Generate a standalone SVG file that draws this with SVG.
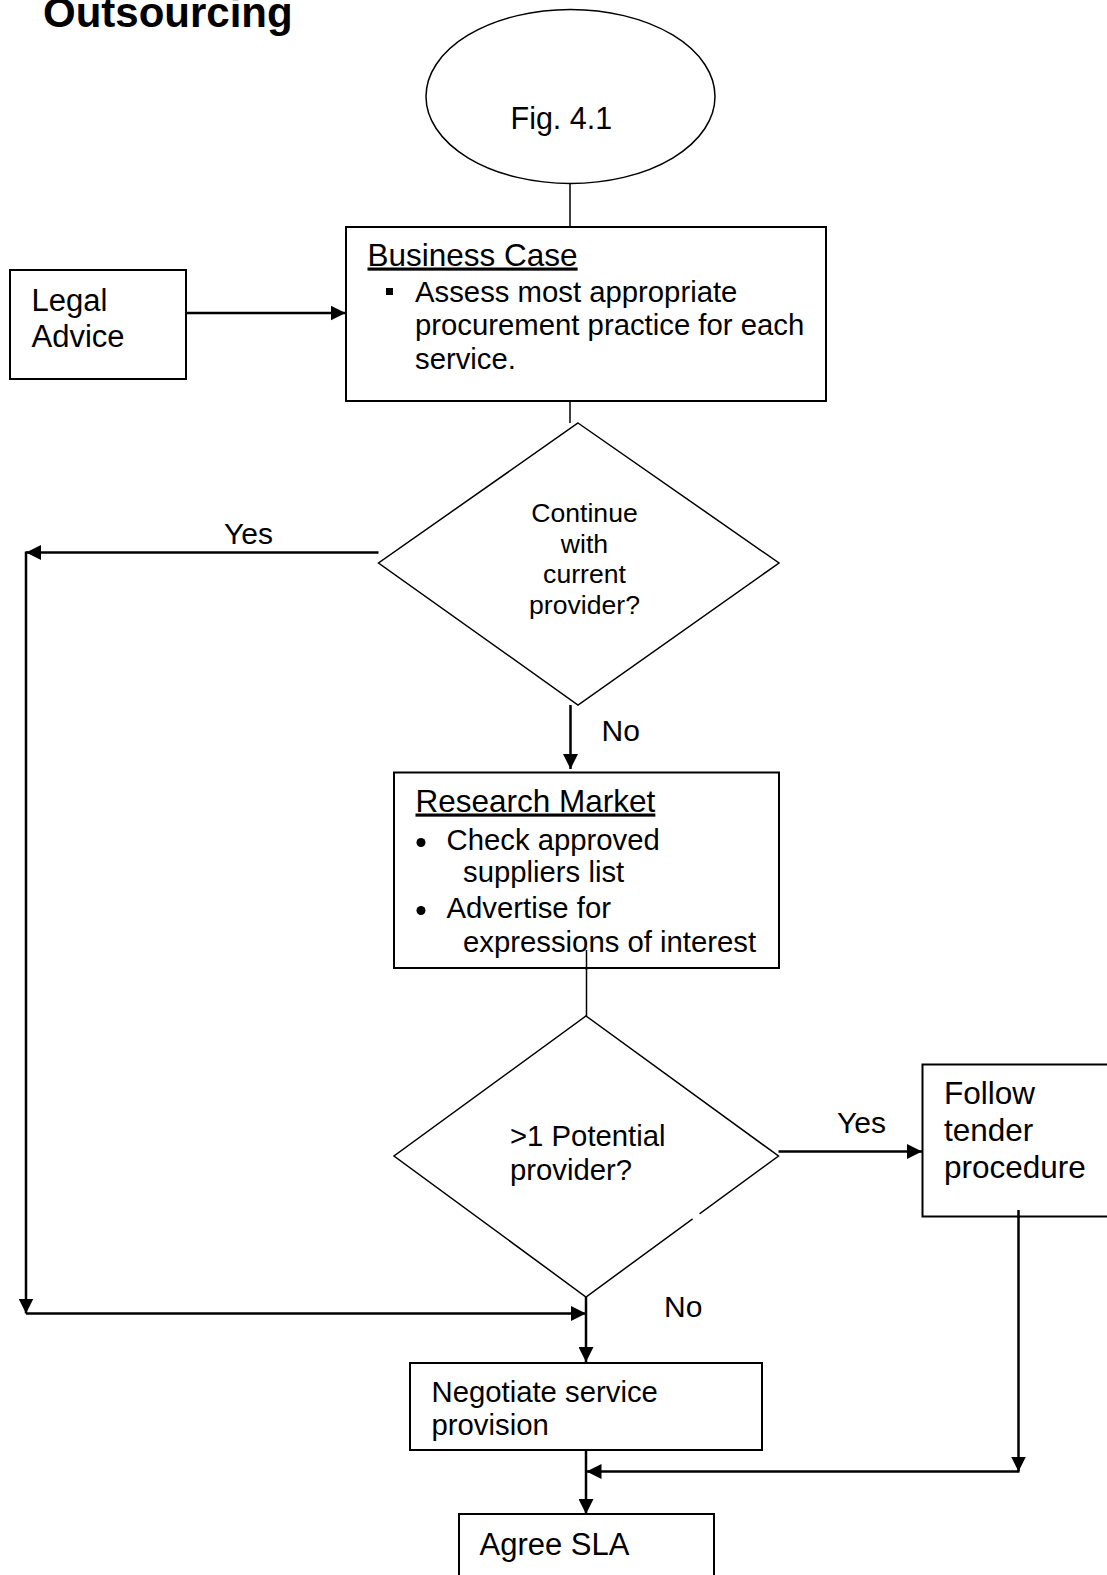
<svg xmlns="http://www.w3.org/2000/svg" width="1107" height="1575" viewBox="0 0 1107 1575">
<style>
text{font-family:"Liberation Sans",Arial,sans-serif;fill:#000}
.box{fill:#fff;stroke:#000;stroke-width:2}
.thin{fill:#fff;stroke:#000;stroke-width:1.5}
.ln{fill:none;stroke:#000;stroke-width:1.5}
.arr{fill:none;stroke:#000;stroke-width:2.5;marker-end:url(#ah)}
.seg{fill:none;stroke:#000;stroke-width:2.5}
.h{font-size:31.5px;text-decoration:underline}
.b{font-size:29.3px}
</style>
<defs>
<marker id="ah" viewBox="0 0 15 15" markerWidth="15" markerHeight="15" refX="15" refY="7.5" orient="auto" markerUnits="userSpaceOnUse">
<path d="M0,0 L15,7.5 L0,15 Z" fill="#000"/>
</marker>
</defs>
<rect width="1107" height="1575" fill="#fff"/>
<text x="43" y="27" style="font-size:42px;font-weight:bold">Outsourcing</text>

<g id="connectors">
<line class="ln" x1="570" y1="183" x2="570" y2="227"/>
<line class="ln" x1="570" y1="401" x2="570" y2="423"/>
<line class="ln" x1="586.5" y1="950" x2="586.5" y2="1016"/>
<line class="arr" x1="186" y1="313" x2="345.5" y2="313"/>
<line class="arr" x1="378.5" y1="552.5" x2="26" y2="552.5"/>
<line class="arr" x1="26" y1="551.5" x2="26" y2="1313.5"/>
<line class="arr" x1="26" y1="1313.5" x2="586" y2="1313.5"/>
<line class="arr" x1="570.5" y1="705" x2="570.5" y2="769"/>
<line class="arr" x1="586" y1="1297" x2="586" y2="1362"/>
<line class="arr" x1="778.5" y1="1151.5" x2="922" y2="1151.5"/>
<line class="arr" x1="1018.5" y1="1210" x2="1018.5" y2="1471.5"/>
<line class="arr" x1="1019.5" y1="1471.5" x2="586.5" y2="1471.5"/>
<line class="arr" x1="586" y1="1450" x2="586" y2="1514"/>
</g>

<g id="start">
<ellipse class="thin" cx="570.5" cy="96.5" rx="144.5" ry="87"/>
<text x="510.5" y="128.5" style="font-size:30.5px">Fig. 4.1</text>
</g>

<g id="legal">
<rect class="box" x="10" y="270" width="176" height="109"/>
<text x="31.5" y="310.5" style="font-size:31px">Legal</text>
<text x="31.5" y="346.5" style="font-size:31px">Advice</text>
</g>

<g id="business">
<rect class="box" x="346" y="227" width="480" height="174"/>
<text x="367.5" y="265.5" class="h">Business Case</text>
<rect x="386" y="288" width="7" height="7" fill="#000"/>
<text x="415" y="301.5" class="b">Assess most appropriate</text>
<text x="415" y="335" class="b">procurement practice for each</text>
<text x="415" y="368.5" class="b">service.</text>
</g>

<g id="decision1">
<polygon class="thin" points="578,423 779,563 578,705 378.5,563"/>
<g style="font-size:26.6px" text-anchor="middle">
<text x="584.5" y="521.5">Continue</text>
<text x="584.5" y="552.5">with</text>
<text x="584.5" y="583">current</text>
<text x="584.5" y="613.5">provider?</text>
</g>
</g>
<text x="224" y="544" style="font-size:30px">Yes</text>
<text x="601.5" y="740.5" style="font-size:30px">No</text>

<g id="research">
<rect class="box" x="394" y="772.5" width="385" height="195.5"/>
<text x="415.5" y="811.5" class="h">Research Market</text>
<circle cx="421" cy="842.5" r="4.5" fill="#000"/>
<text x="446.5" y="849.5" class="b">Check approved</text>
<text x="463" y="881.5" class="b">suppliers list</text>
<circle cx="421" cy="910.5" r="4.5" fill="#000"/>
<text x="446.5" y="918" class="b">Advertise for</text>
<text x="463" y="951.5" class="b">expressions of interest</text>
</g>
<line class="ln" x1="586.5" y1="950" x2="586.5" y2="970"/>

<g id="decision2">
<polygon class="thin" points="586,1016 778.5,1156 586,1297 394,1156"/>
<line x1="692.5" y1="1218.8" x2="699.5" y2="1213.7" stroke="#fff" stroke-width="3"/>
<text x="510" y="1145.5" class="b">&gt;1 Potential</text>
<text x="510" y="1180" class="b">provider?</text>
</g>
<text x="837" y="1133" style="font-size:30px">Yes</text>
<text x="664" y="1316.5" style="font-size:30px">No</text>

<g id="tender">
<rect class="box" x="922.5" y="1064.5" width="200" height="152"/>
<text x="944" y="1104" style="font-size:31.5px">Follow</text>
<text x="944" y="1140.5" style="font-size:31.5px">tender</text>
<text x="944" y="1177.5" style="font-size:31.5px">procedure</text>
</g>
<line class="seg" x1="1018.5" y1="1210" x2="1018.5" y2="1218"/>

<g id="negotiate">
<rect class="box" x="410" y="1363" width="352" height="87"/>
<text x="431.5" y="1401.5" class="b">Negotiate service</text>
<text x="431.5" y="1435" class="b">provision</text>
</g>

<g id="agree">
<rect class="box" x="459" y="1514" width="255" height="80"/>
<text x="479.5" y="1555" style="font-size:31px">Agree SLA</text>
</g>
</svg>
